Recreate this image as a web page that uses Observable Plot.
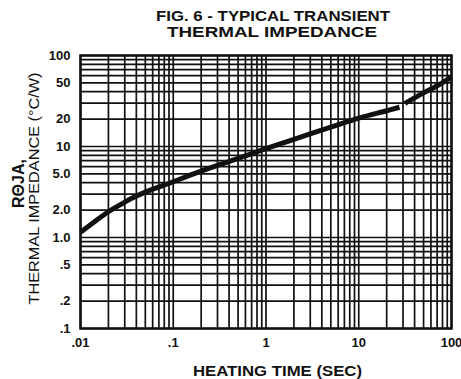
<!DOCTYPE html>
<html>
<head>
<meta charset="utf-8">
<script src="https://cdn.jsdelivr.net/npm/d3@7"></script>
<script src="https://cdn.jsdelivr.net/npm/@observablehq/plot@0.6"></script>
<style>
  html, body { margin: 0; padding: 0; background: #fff; }
</style>
</head>
<body>
<div id="chart"></div>
<script>
// ---- data ----
const titleLines = ["FIG. 6 - TYPICAL TRANSIENT", "THERMAL IMPEDANCE"];
const xLabel = "HEATING TIME (SEC)";
const yLabelTop = "RΘJA,";
const yLabelBottom = "THERMAL IMPEDANCE (°C/W)";

const xTicks = [0.01, 0.1, 1, 10, 100];
const xTickLabels = [".01", ".1", "1", "10", "100"];
const yTicks = [0.1, 0.2, 0.5, 1, 2, 5, 10, 20, 50, 100];
const yTickLabels = [".1", ".2", ".5", "1.0", "2.0", "5.0", "10", "20", "50", "100"];

const gridMantissas = [1, 2, 3, 4, 5, 6, 7, 8, 9];
const xDecades = [0.01, 0.1, 1, 10];
const yDecades = [0.1, 1, 10];
const xEnd = 100;
const yEnd = 100;

// curve (heating time s, impedance °C/W), drawn in two pieces (break in the print)
const timeSeg1 = [0.01, 0.015, 0.02, 0.025, 0.03, 0.04, 0.05, 0.1, 0.166, 0.3, 0.5, 1, 2, 5, 10, 20, 27.5];
const impSeg1  = [1.14, 1.56, 1.92, 2.2, 2.45, 2.85, 3.15, 4.1, 5.0, 6.2, 7.4, 9.5, 12, 16.3, 20.5, 24.7, 27];
const timeSeg2 = [31.5, 50, 70, 100];
const impSeg2  = [29.8, 38.8, 46.5, 58];

// ---- build ----
const xGrid = xDecades.flatMap(d => gridMantissas.map(m => m * d)).concat([xEnd]);
const yGrid = yDecades.flatMap(d => gridMantissas.map(m => m * d)).concat([yEnd]);
const seg1 = timeSeg1.map((t, i) => ({t, z: impSeg1[i]}));
const seg2 = timeSeg2.map((t, i) => ({t, z: impSeg2[i]}));
const xTickData = xTicks.map((v, i) => ({v, label: xTickLabels[i]}));
const yTickData = yTicks.map((v, i) => ({v, label: yTickLabels[i]}));

const ink = "#111";
const font = "'Liberation Sans', Arial, sans-serif";
const W = 461, H = 379;
const chart = Plot.plot({
  width: W, height: H,
  marginLeft: 80, marginRight: 10, marginTop: 55, marginBottom: 51,
  style: {background: "#fff", fontFamily: font, color: ink},
  x: {type: "log", domain: [0.01, 100], axis: null},
  y: {type: "log", domain: [0.1, 100], axis: null},
  marks: [
    Plot.ruleX(xGrid, {stroke: ink, strokeWidth: 1.7}),
    Plot.ruleY(yGrid, {stroke: ink, strokeWidth: 1.7}),
    Plot.frame({stroke: ink, strokeWidth: 2.5}),
    Plot.line(seg1, {x: "t", y: "z", stroke: ink, strokeWidth: 5, curve: "catmull-rom", strokeLinecap: "butt"}),
    Plot.line(seg2, {x: "t", y: "z", stroke: ink, strokeWidth: 5, curve: "catmull-rom", strokeLinecap: "butt"}),
    Plot.text(xTickData, {x: "v", text: "label", frameAnchor: "bottom", lineAnchor: "top", dy: 9,
      fontSize: 13, fontWeight: "bold", fill: ink}),
    Plot.text(yTickData, {y: "v", text: "label", frameAnchor: "left", textAnchor: "end", dx: -10,
      fontSize: 13, fontWeight: "bold", fill: ink})
  ]
});
document.getElementById("chart").appendChild(chart);

const svg = d3.select(chart);
// title
svg.append("text").attr("x", 273).attr("y", 21).attr("text-anchor", "middle")
  .attr("font-family", font).attr("font-size", 15).attr("font-weight", "bold").attr("fill", ink)
  .attr("textLength", 234).attr("lengthAdjust", "spacingAndGlyphs").text(titleLines[0]);
svg.append("text").attr("x", 272).attr("y", 37).attr("text-anchor", "middle")
  .attr("font-family", font).attr("font-size", 15).attr("font-weight", "bold").attr("fill", ink)
  .attr("textLength", 210).attr("lengthAdjust", "spacingAndGlyphs").text(titleLines[1]);
// x label
svg.append("text").attr("x", 277.5).attr("y", 376).attr("text-anchor", "middle")
  .attr("font-family", font).attr("font-size", 14).attr("font-weight", "bold").attr("fill", ink)
  .attr("textLength", 169).attr("lengthAdjust", "spacingAndGlyphs").text(xLabel);
// y labels (rotated)
svg.append("text").attr("transform", "translate(24,183.5) rotate(-90)").attr("text-anchor", "middle")
  .attr("font-family", font).attr("font-size", 16).attr("font-weight", "bold").attr("fill", ink)
  .text(yLabelTop);
svg.append("text").attr("transform", "translate(39,188.5) rotate(-90)").attr("text-anchor", "middle")
  .attr("font-family", font).attr("font-size", 15).attr("fill", ink)
  .attr("textLength", 232).attr("lengthAdjust", "spacingAndGlyphs").text(yLabelBottom);
</script>
</body>
</html>
